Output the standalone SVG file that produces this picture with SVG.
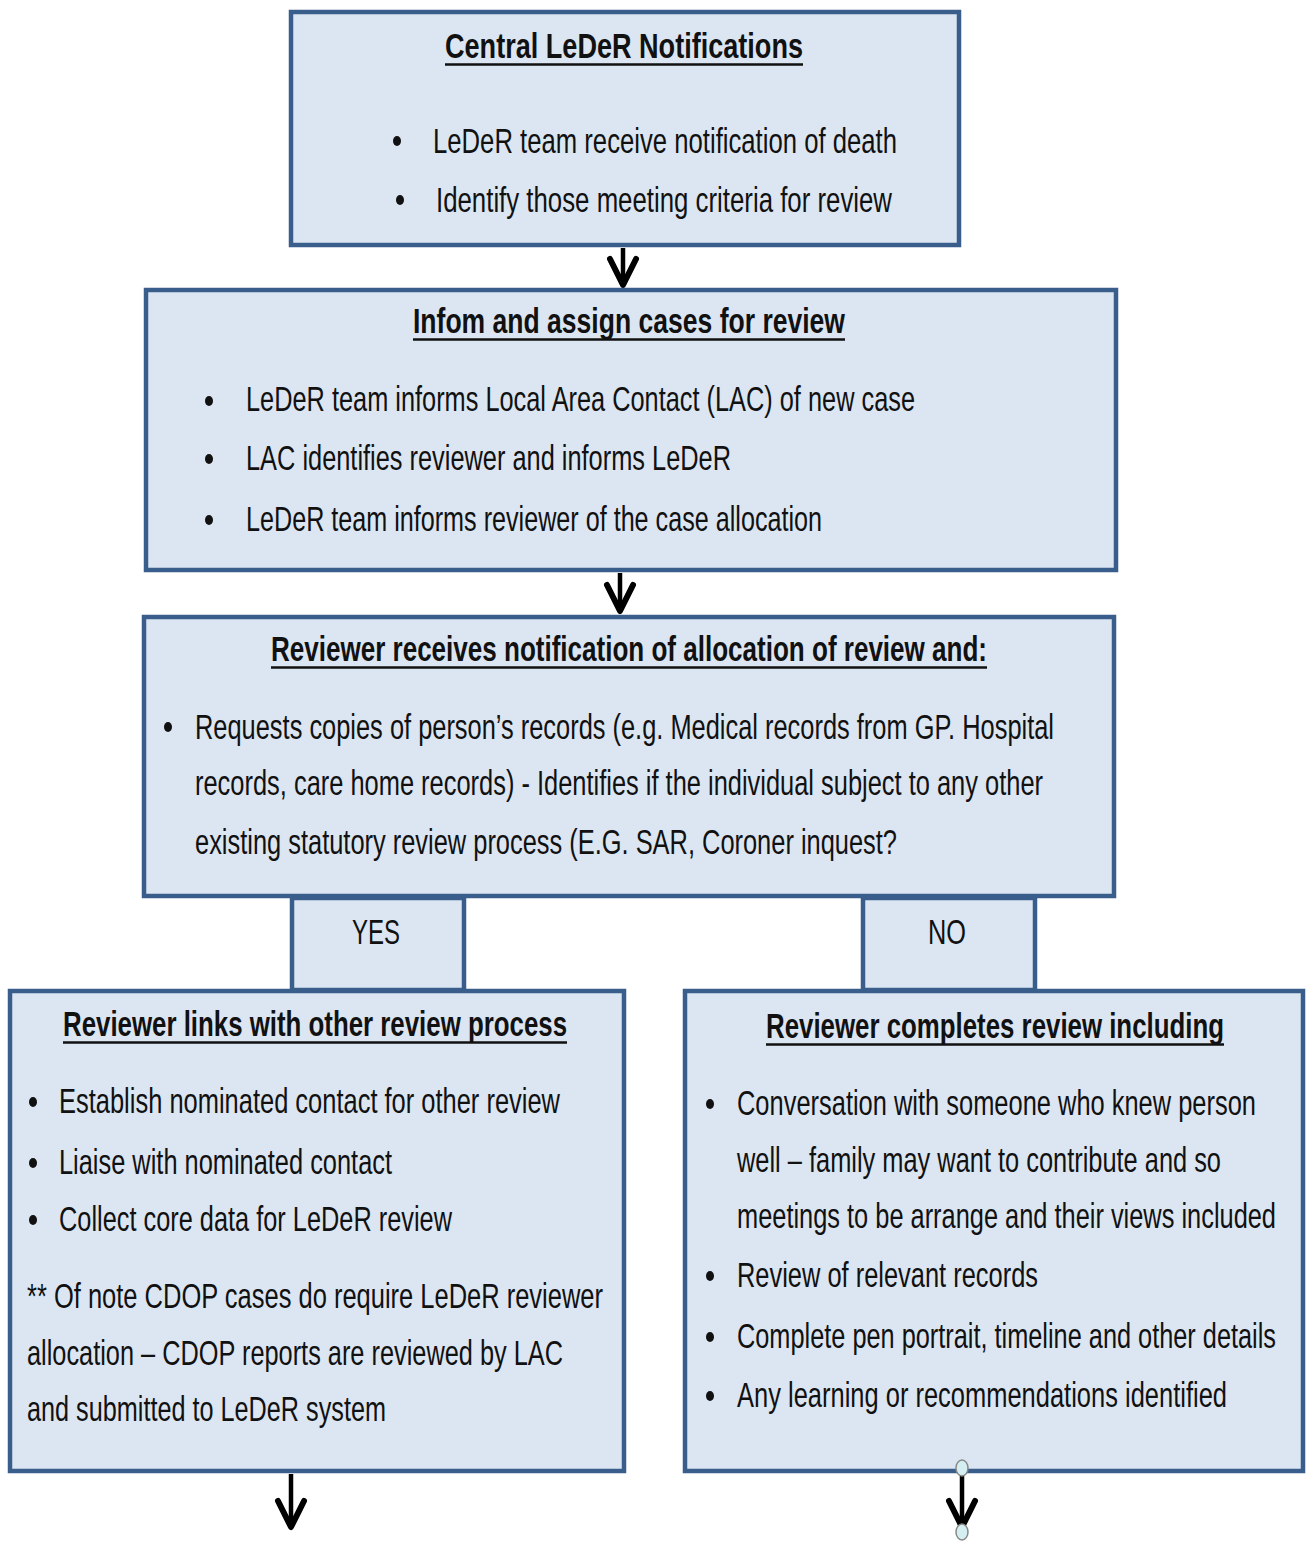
<svg xmlns="http://www.w3.org/2000/svg" width="1308" height="1541" viewBox="0 0 1308 1541">
<style>
.box{fill:#DCE6F2;stroke:#3A5E8C;stroke-width:4.5}
.t{font-family:"Liberation Sans",Arial,sans-serif;font-size:35px;fill:#111}
.h{font-family:"Liberation Sans",Arial,sans-serif;font-size:35px;font-weight:bold;fill:#111}
.ul{stroke:#111;stroke-width:2.5}
.dot{fill:#111}
.conn{stroke:#000;stroke-width:4.5;fill:none}
.handle{fill:#D4EEF2;stroke:#888;stroke-width:1.5}
</style>
<defs>
<marker id="ah" viewBox="-30 -18 34 36" refX="0" refY="0" markerWidth="34" markerHeight="36" markerUnits="userSpaceOnUse" orient="auto">
<path d="M-26,-13 L0,0 L-26,13" fill="none" stroke="#000" stroke-width="6" stroke-linejoin="round" stroke-linecap="round"/>
</marker>
</defs>
<rect width="1308" height="1541" fill="#fff"/>

<g id="connectors">
<line class="conn" x1="623" y1="248" x2="623" y2="285" marker-end="url(#ah)"/>
<line class="conn" x1="620" y1="573" x2="620" y2="611" marker-end="url(#ah)"/>
<line class="conn" x1="291" y1="1474" x2="291" y2="1527" marker-end="url(#ah)"/>
<line class="conn" x1="962" y1="1470" x2="962" y2="1527" marker-end="url(#ah)"/>
</g>

<g id="n1">
<rect class="box" x="291" y="12" width="668" height="233"/>
<text class="h" x="445" y="58" textLength="358" lengthAdjust="spacingAndGlyphs">Central LeDeR Notifications</text>
<line class="ul" x1="445" y1="64.5" x2="803" y2="64.5"/>
<ellipse class="dot" cx="397" cy="141" rx="4" ry="5"/>
<text class="t" x="433" y="153" textLength="464" lengthAdjust="spacingAndGlyphs">LeDeR team receive notification of death</text>
<ellipse class="dot" cx="400" cy="200" rx="4" ry="5"/>
<text class="t" x="436" y="212" textLength="456" lengthAdjust="spacingAndGlyphs">Identify those meeting criteria for review</text>
</g>

<g id="n2">
<rect class="box" x="146" y="290" width="970" height="280"/>
<text class="h" x="413" y="333" textLength="432" lengthAdjust="spacingAndGlyphs">Infom and assign cases for review</text>
<line class="ul" x1="413" y1="339.5" x2="845" y2="339.5"/>
<ellipse class="dot" cx="209" cy="401" rx="4" ry="5"/>
<text class="t" x="246" y="411" textLength="669" lengthAdjust="spacingAndGlyphs">LeDeR team informs Local Area Contact (LAC) of new case</text>
<ellipse class="dot" cx="209" cy="459" rx="4" ry="5"/>
<text class="t" x="246" y="470" textLength="485" lengthAdjust="spacingAndGlyphs">LAC identifies reviewer and informs LeDeR</text>
<ellipse class="dot" cx="209" cy="520" rx="4" ry="5"/>
<text class="t" x="246" y="531" textLength="576" lengthAdjust="spacingAndGlyphs">LeDeR team informs reviewer of the case allocation</text>
</g>

<g id="n3">
<rect class="box" x="144" y="617" width="970" height="279"/>
<text class="h" x="271" y="661" textLength="716" lengthAdjust="spacingAndGlyphs">Reviewer receives notification of allocation of review and:</text>
<line class="ul" x1="271" y1="667.5" x2="987" y2="667.5"/>
<ellipse class="dot" cx="168" cy="727" rx="4" ry="5"/>
<text class="t" x="195" y="739" textLength="859" lengthAdjust="spacingAndGlyphs">Requests copies of person’s records (e.g. Medical records from GP. Hospital</text>
<text class="t" x="195" y="795" textLength="848" lengthAdjust="spacingAndGlyphs">records, care home records) - Identifies if the individual subject to any other</text>
<text class="t" x="195" y="854" textLength="702" lengthAdjust="spacingAndGlyphs">existing statutory review process (E.G. SAR, Coroner inquest?</text>
</g>

<g id="yes">
<rect class="box" x="292" y="898" width="172" height="92"/>
<text class="t" x="352" y="944" textLength="48" lengthAdjust="spacingAndGlyphs">YES</text>
</g>

<g id="no">
<rect class="box" x="863" y="898" width="172" height="92"/>
<text class="t" x="928" y="944" textLength="38" lengthAdjust="spacingAndGlyphs">NO</text>
</g>

<g id="n4">
<rect class="box" x="10" y="991" width="614" height="480"/>
<text class="h" x="63" y="1036" textLength="504" lengthAdjust="spacingAndGlyphs">Reviewer links with other review process</text>
<line class="ul" x1="63" y1="1042.5" x2="567" y2="1042.5"/>
<ellipse class="dot" cx="33" cy="1102" rx="4" ry="5"/>
<text class="t" x="59" y="1113" textLength="501" lengthAdjust="spacingAndGlyphs">Establish nominated contact for other review</text>
<ellipse class="dot" cx="33" cy="1163" rx="4" ry="5"/>
<text class="t" x="59" y="1174" textLength="333" lengthAdjust="spacingAndGlyphs">Liaise with nominated contact</text>
<ellipse class="dot" cx="33" cy="1220" rx="4" ry="5"/>
<text class="t" x="59" y="1231" textLength="393" lengthAdjust="spacingAndGlyphs">Collect core data for LeDeR review</text>
<text class="t" x="27" y="1308" textLength="576" lengthAdjust="spacingAndGlyphs">** Of note CDOP cases do require LeDeR reviewer</text>
<text class="t" x="27" y="1365" textLength="536" lengthAdjust="spacingAndGlyphs">allocation – CDOP reports are reviewed by LAC</text>
<text class="t" x="27" y="1421" textLength="359" lengthAdjust="spacingAndGlyphs">and submitted to LeDeR system</text>
</g>

<g id="n5">
<rect class="box" x="685" y="991" width="618" height="480"/>
<text class="h" x="766" y="1038" textLength="458" lengthAdjust="spacingAndGlyphs">Reviewer completes review including</text>
<line class="ul" x1="766" y1="1044.5" x2="1224" y2="1044.5"/>
<ellipse class="dot" cx="710" cy="1104" rx="4" ry="5"/>
<text class="t" x="737" y="1115" textLength="519" lengthAdjust="spacingAndGlyphs">Conversation with someone who knew person</text>
<text class="t" x="737" y="1172" textLength="484" lengthAdjust="spacingAndGlyphs">well – family may want to contribute and so</text>
<text class="t" x="737" y="1228" textLength="539" lengthAdjust="spacingAndGlyphs">meetings to be arrange and their views included</text>
<ellipse class="dot" cx="710" cy="1276" rx="4" ry="5"/>
<text class="t" x="737" y="1287" textLength="301" lengthAdjust="spacingAndGlyphs">Review of relevant records</text>
<ellipse class="dot" cx="710" cy="1337" rx="4" ry="5"/>
<text class="t" x="737" y="1348" textLength="539" lengthAdjust="spacingAndGlyphs">Complete pen portrait, timeline and other details</text>
<ellipse class="dot" cx="710" cy="1396" rx="4" ry="5"/>
<text class="t" x="737" y="1407" textLength="490" lengthAdjust="spacingAndGlyphs">Any learning or recommendations identified</text>
</g>

<g id="handles">
<ellipse class="handle" cx="962" cy="1468" rx="6" ry="8"/>
<ellipse class="handle" cx="962" cy="1532" rx="6" ry="8"/>
</g>
</svg>
